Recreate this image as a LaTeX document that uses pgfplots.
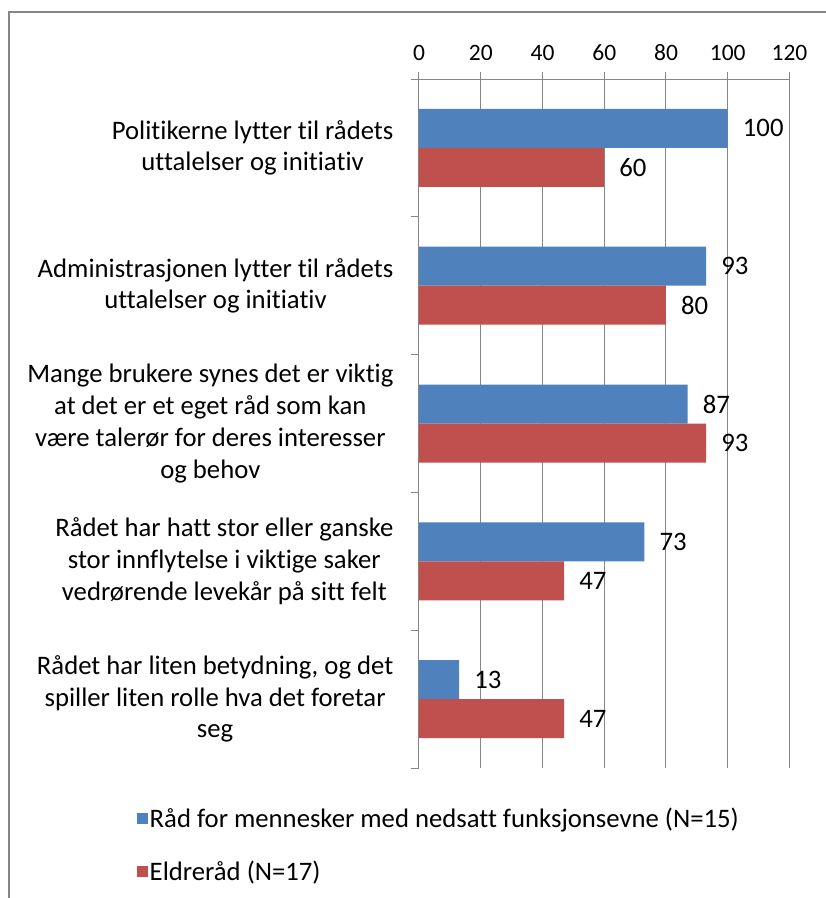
\documentclass[border=0pt]{standalone}
\usepackage{pgfplots}
\pgfplotsset{compat=1.18}
\usepackage{fontspec}
\setmainfont{Carlito}[Ligatures=NoCommon]
\definecolor{cblue}{HTML}{4F81BD}
\definecolor{cred}{HTML}{C0504D}
\definecolor{cgrid}{HTML}{868686}
\begin{document}
\begin{tikzpicture}[font=\fontsize{26.7}{31.7}\selectfont]
\useasboundingbox (0pt,0pt) rectangle (826pt,-898pt);
\draw[cgrid, line width=1.2pt] (9pt,-12pt) rectangle (860pt,-930pt);
\begin{axis}[
  at={(419pt,-768pt)}, anchor=south west,
  scale only axis, width=370.5pt, height=689pt,
  xmin=0, xmax=120, ymin=-0.5, ymax=4.5,
  axis x line*=top, axis y line*=left,
  axis line style={-, cgrid, line width=1pt},
  xtick={0,20,...,120},
  ytick={-0.5,0.5,1.5,2.5,3.5,4.5},
  y tick label as interval,
  yticklabels={
    {Rådet har liten betydning, og det\\spiller liten rolle hva det foretar\\seg},
    {Rådet har hatt stor eller ganske\\stor innflytelse i viktige saker\\vedrørende levekår på sitt felt},
    {Mange brukere synes det er viktig\\at det er et eget råd som kan\\være talerør for deres interesser\\og behov},
    {Administrasjonen lytter til rådets\\uttalelser og initiativ},
    {Politikerne lytter til rådets\\uttalelser og initiativ}},
  tick align=outside, major tick length=7.5pt,
  tick style={cgrid, line width=1pt},
  xmajorgrids, grid style={cgrid, line width=1pt},
  /pgf/number format/assume math mode=true,
  xticklabel style={anchor=south, inner sep=0pt, yshift=11pt, font=\fontsize{23.5}{28}\selectfont},
  yticklabel style={align=center, anchor=east, inner sep=0pt, xshift=-18pt},
  xbar, bar width=39pt,
  point meta=x,
  nodes near coords, nodes near coords align={horizontal},
  every node near coord/.append style={anchor=west, inner sep=0pt, xshift=15pt, black},
  legend style={draw=none, fill=none, at={(-0.761,-0.055)}, anchor=north west,
    row sep=29pt, inner sep=0pt, nodes={inner sep=1.5pt}},
  legend cell align=left,
  legend image code/.code={\fill[#1] (0pt,-5.5pt) rectangle (11pt,5.5pt);},
]
\addplot[fill=cblue, draw=none, bar shift=19.5pt] coordinates {(100,4) (93,3) (87,2) (73,1) (13,0)};
\addplot[fill=cred, draw=none, bar shift=-19.5pt] coordinates {(60,4) (80,3) (93,2) (47,1) (47,0)};
\legend{Råd for mennesker med nedsatt funksjonsevne (N=15), Eldreråd (N=17)}
\end{axis}
\end{tikzpicture}
\end{document}
